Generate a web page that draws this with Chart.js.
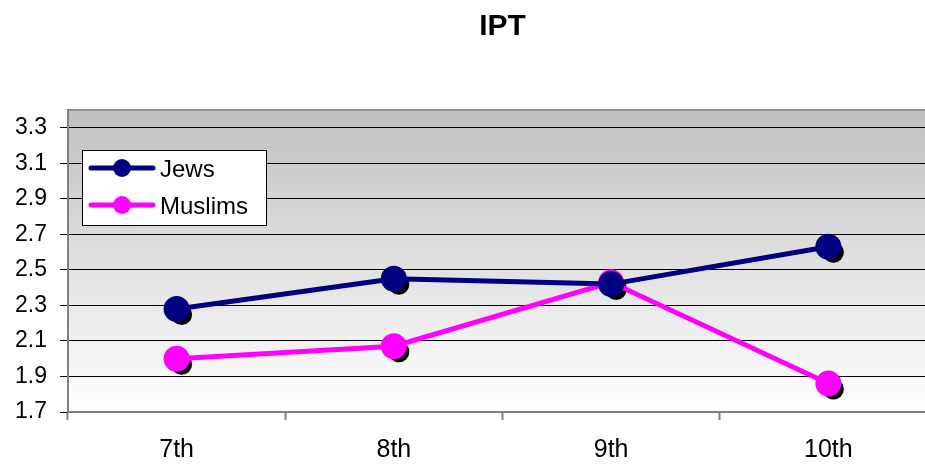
<!DOCTYPE html>
<html lang="en">
<head>
<meta charset="UTF-8">
<title>IPT</title>
<script src="https://cdn.jsdelivr.net/npm/chart.js"></script>
<style>
  html, body { margin: 0; padding: 0; background: #fff; overflow: hidden; }
  canvas { display: block; }
</style>
</head>
<body>
<canvas id="grafico" width="940" height="466"></canvas>
<script>
// data
const chartTitle = 'IPT';
const grades = ['7th', '8th', '9th', '10th'];
const jews = [2.28, 2.45, 2.42, 2.63];
const muslims = [2.00, 2.07, 2.43, 1.86];
const yTicks = [1.7, 1.9, 2.1, 2.3, 2.5, 2.7, 2.9, 3.1, 3.3];
const yMin = 1.7;
const yMax = 3.4;

const azul = '#000080';
const rosa = '#FF00FF';
const fonte = '"Liberation Sans", Arial, sans-serif';

// gray-to-white gradient behind the plot area
const fundo = {
  id: 'fundo',
  beforeDraw(chart) {
    const { ctx, chartArea: a } = chart;
    const g = ctx.createLinearGradient(0, a.top, 0, a.bottom);
    g.addColorStop(0, '#c0c0c0');
    g.addColorStop(1, '#ffffff');
    ctx.save();
    ctx.fillStyle = g;
    ctx.fillRect(a.left, a.top, a.right - a.left, a.bottom - a.top);
    ctx.restore();
  }
};

// black marker shadows, drawn under every series
const sombra = {
  id: 'sombra',
  beforeDatasetsDraw(chart) {
    const ctx = chart.ctx;
    ctx.save();
    ctx.fillStyle = '#000';
    chart.data.datasets.forEach((ds, i) => {
      chart.getDatasetMeta(i).data.forEach(p => {
        ctx.beginPath();
        ctx.arc(p.x + 5, p.y + 5.5, 10.5, 0, Math.PI * 2);
        ctx.fill();
      });
    });
    ctx.restore();
  }
};

// title and the boxed legend inside the plot
const extras = {
  id: 'extras',
  afterDraw(chart) {
    const { ctx, chartArea: a } = chart;
    ctx.save();
    ctx.fillStyle = '#000';
    ctx.font = 'bold 30px ' + fonte;
    ctx.textAlign = 'center';
    ctx.textBaseline = 'alphabetic';
    ctx.fillText(chartTitle, (a.left + a.right) / 2, 35);

    const bx = 82, by = 150, bw = 184, bh = 75;
    ctx.fillStyle = '#fff';
    ctx.fillRect(bx, by, bw, bh);
    ctx.strokeStyle = '#000';
    ctx.lineWidth = 1;
    ctx.strokeRect(bx + 0.5, by + 0.5, bw, bh);

    ctx.font = '24px ' + fonte;
    ctx.textAlign = 'left';
    chart.data.datasets.forEach((ds, i) => {
      const y = 168 + i * 37;
      ctx.strokeStyle = ds.borderColor;
      ctx.lineWidth = 5;
      ctx.lineCap = 'round';
      ctx.beginPath();
      ctx.moveTo(91, y);
      ctx.lineTo(153, y);
      ctx.stroke();
      ctx.fillStyle = ds.borderColor;
      ctx.beginPath();
      ctx.arc(122, y, 9, 0, Math.PI * 2);
      ctx.fill();
      ctx.fillStyle = '#000';
      ctx.fillText(ds.label, 160, y + 8.5);
    });
    ctx.restore();
  }
};

new Chart(document.getElementById('grafico'), {
  type: 'line',
  data: {
    labels: grades,
    datasets: [
      {
        label: 'Jews',
        data: jews,
        borderColor: azul,
        backgroundColor: azul,
        borderWidth: 5,
        pointRadius: 10.5,
        pointHoverRadius: 10.5,
        tension: 0
      },
      {
        label: 'Muslims',
        data: muslims,
        borderColor: rosa,
        backgroundColor: rosa,
        borderWidth: 5,
        pointRadius: 10.5,
        pointHoverRadius: 10.5,
        tension: 0
      }
    ]
  },
  options: {
    responsive: false,
    animation: false,
    // plot area runs past the right edge of the window, as in the reference
    layout: { autoPadding: false, padding: { top: 110, left: 2, right: 3, bottom: -14 } },
    plugins: {
      legend: { display: false },
      tooltip: { enabled: false }
    },
    scales: {
      x: {
        offset: true,
        grid: {
          offset: true,
          drawOnChartArea: false,
          tickLength: 8,
          tickColor: '#808080',
          tickWidth: 2
        },
        border: { color: '#808080', width: 2 },
        ticks: {
          color: '#000',
          padding: 15,
          font: { family: fonte, size: 25 }
        }
      },
      y: {
        min: yMin,
        max: yMax,
        afterBuildTicks(scale) {
          scale.ticks = yTicks.concat([yMax]).map(v => ({ value: v }));
        },
        grid: {
          color: ctx => (ctx.tick && ctx.tick.value === yMax) ? '#909090' : '#000',
          lineWidth: ctx => (ctx.tick && ctx.tick.value === yMax) ? 2 : 1,
          tickLength: 8,
          tickColor: ctx => (ctx.tick && ctx.tick.value === yMax) ? 'rgba(0,0,0,0)' : '#000'
        },
        border: { color: '#808080', width: 2 },
        ticks: {
          color: '#000',
          padding: 13,
          font: { family: fonte, size: 23 },
          callback: v => yTicks.includes(v) ? v.toFixed(1) : ''
        }
      }
    }
  },
  plugins: [fundo, sombra, extras]
});
</script>
</body>
</html>
